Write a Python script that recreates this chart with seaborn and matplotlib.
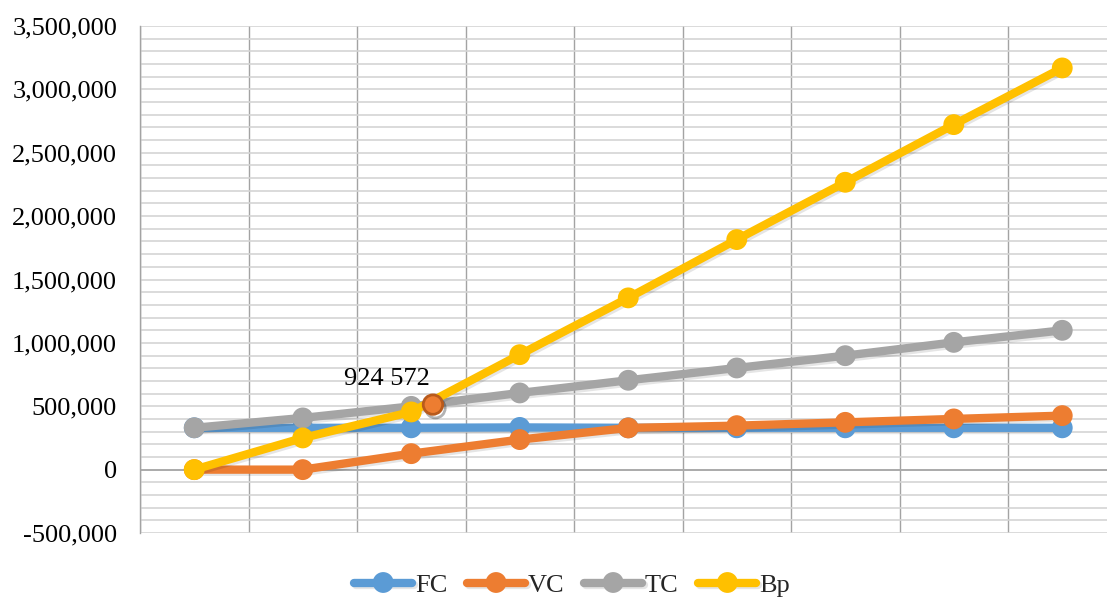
import numpy as np
import pandas as pd
import matplotlib
matplotlib.use("Agg")
import matplotlib.pyplot as plt
import matplotlib.patheffects as pe
from matplotlib.ticker import FuncFormatter, MultipleLocator
import seaborn as sns

# Cost / revenue series per output step
steps = list(range(9))
fc = [330000, 330000, 330000, 333000, 330000, 330000, 330000, 330000, 330000]
vc = [0, 0, 126000, 237000, 329000, 347000, 373000, 400000, 426000]
tc = [330000, 408000, 499000, 605000, 705000, 802000, 899000, 1004000, 1099000]
bp = [0, 250000, 455000, 907000, 1355000, 1815000, 2267000, 2722000, 3169000]
series_names = ["FC", "VC", "TC", "Bp"]
series_colors = ["#5B9BD5", "#ED7D31", "#A5A5A5", "#FFC000"]

# Break-even point and its label
be_x = 2.2
be_y = 513000
be_label = "924 572"

y_ticks = [-500000, 0, 500000, 1000000, 1500000, 2000000, 2500000, 3000000, 3500000]

df = pd.DataFrame({
    "step": steps * 4,
    "value": fc + vc + tc + bp,
    "series": sum([[n] * len(steps) for n in series_names], []),
})

sns.set_theme(style="white")
plt.rcParams["font.family"] = ["Liberation Serif", "DejaVu Serif"]

fig = plt.figure(figsize=(11.07, 5.99), dpi=100)
ax = fig.add_axes([140 / 1107, 1 - 533 / 599, 976.5 / 1107, 507 / 599])

line_shadow = [pe.SimpleLineShadow(offset=(1.2, -1.6), shadow_color="black", alpha=0.10), pe.Normal()]
dot_shadow = [pe.SimpleLineShadow(offset=(1.8, -2.6), shadow_color="black", alpha=0.30), pe.Normal()]

for i, (name, color) in enumerate(zip(series_names, series_colors)):
    sub = df[df["series"] == name]
    sns.lineplot(data=sub, x="step", y="value", ax=ax, color=color, label=name,
                 linewidth=5.2, marker="o", markersize=14, markeredgewidth=0,
                 sort=False, zorder=3 + i)
    ax.lines[-1].set_path_effects(line_shadow)
    # markers again on top, with a soft drop shadow
    ax.plot(sub["step"], sub["value"], linestyle="none", marker="o", markersize=14,
            markerfacecolor=color, markeredgewidth=0, zorder=3 + i,
            path_effects=dot_shadow)

# Break-even marker
ax.plot([be_x], [be_y], marker="o", markersize=14, markerfacecolor="#ED7D31",
        markeredgecolor="#B85A1C", markeredgewidth=2.0, linestyle="none", zorder=10,
        path_effects=dot_shadow)
ax.text(be_x - 0.42, be_y + 205000, be_label, fontsize=19, ha="center", va="center",
        color="black", zorder=11)

ax.set_xlim(-0.5, 8.5)
ax.set_ylim(-500000, 3500000)
ax.set_xticks(np.arange(-0.5, 9, 1.0))
ax.set_xticklabels([])
ax.set_yticks(y_ticks)
ax.yaxis.set_minor_locator(MultipleLocator(100000))
ax.yaxis.set_major_formatter(FuncFormatter(lambda v, p: f"{v:,.0f}"))
ax.tick_params(axis="both", which="both", length=0)
ax.tick_params(axis="y", labelsize=19, pad=16.5, colors="black")

ax.grid(True, axis="y", which="both", color="#d4d4d4", linewidth=1.2, zorder=0)
ax.grid(True, axis="x", which="major", color="#a3a3a3", linewidth=1.0, zorder=0)
ax.axhline(0, color="#a3a3a3", linewidth=1.2, zorder=1)
ax.set_axisbelow(True)
ax.set_xlabel("")
ax.set_ylabel("")
for s in ["top", "right", "bottom"]:
    ax.spines[s].set_visible(False)
ax.spines["left"].set_color("#a3a3a3")
ax.spines["left"].set_linewidth(1.0)

handles, labels = ax.get_legend_handles_labels()
ax.get_legend().remove()
for h in handles:
    h.set_markersize(15)
    h.set_linewidth(6)
fig.legend(handles[:4], labels[:4], loc="center", bbox_to_anchor=(572 / 1107, 1 - 585 / 599),
           ncol=4, frameon=False, fontsize=19, handlelength=2.2, handletextpad=0.1,
           columnspacing=0.75)

fig.savefig("out.png", dpi=100)
